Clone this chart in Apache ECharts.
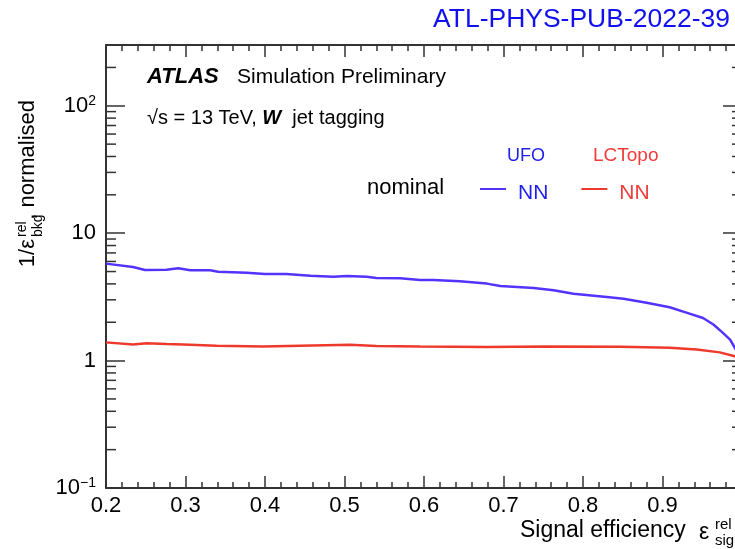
<!DOCTYPE html>
<html><head><meta charset="utf-8">
<script src="https://cdn.jsdelivr.net/npm/echarts@6/dist/echarts.min.js"></script>
<style>html,body{margin:0;padding:0;background:#fff}#c{width:735px;height:549px}</style>
</head><body><div id="c"></div>
<script>
// ---- data ----
const ufoX = [0.200, 0.234, 0.249, 0.276, 0.291, 0.306, 0.331, 0.341, 0.377, 0.400, 0.427, 0.457, 0.486, 0.503, 0.528, 0.540, 0.570, 0.595, 0.612, 0.645, 0.679, 0.696, 0.738, 0.763, 0.788, 0.830, 0.851, 0.880, 0.909, 0.930, 0.951, 0.964, 0.976, 0.985, 0.991, 1.000];
const ufoNN = [5.77, 5.43, 5.14, 5.17, 5.30, 5.11, 5.11, 4.99, 4.90, 4.79, 4.79, 4.64, 4.56, 4.62, 4.56, 4.45, 4.42, 4.30, 4.30, 4.19, 4.02, 3.85, 3.72, 3.56, 3.35, 3.16, 3.06, 2.84, 2.62, 2.38, 2.16, 1.92, 1.65, 1.46, 1.26, 1.00];
const lcX = [0.200, 0.234, 0.251, 0.276, 0.297, 0.339, 0.398, 0.444, 0.507, 0.540, 0.595, 0.679, 0.754, 0.847, 0.909, 0.943, 0.972, 0.991, 1.000];
const lcNN = [1.39, 1.34, 1.37, 1.35, 1.34, 1.31, 1.29, 1.31, 1.33, 1.30, 1.29, 1.28, 1.29, 1.285, 1.26, 1.22, 1.16, 1.08, 1.00];

const xTickValues = [0.2, 0.3, 0.4, 0.5, 0.6, 0.7, 0.8, 0.9, 1.0];
const xTickLabels = ['0.2', '0.3', '0.4', '0.5', '0.6', '0.7', '0.8', '0.9', '1'];
const yTickValues = [0.1, 1, 10, 100];
const yTickLabels = ['{b|10}{s|\u22121}', '{b|1}', '{b|10}', '{b|10}{s|2}'];
const yMinorMultipliers = [2, 3, 4, 5, 6, 7, 8, 9];

// ---- styling ----
const FONT = '"Liberation Sans", Arial, Helvetica, sans-serif';
const AX = '#333333';
const BLUE_LINE = '#5533ff';
const RED_LINE = '#ee3a2c';
const BLUE_TXT = '#1f1ff0';
const RED_TXT = '#f03c3c';
const X_MIN = 0.2, X_MAX = 1.0, Y_MIN = 0.1, Y_MAX = 300;

const yMinor = [];
for (const dec of yTickValues) {
  for (const m of yMinorMultipliers) {
    const v = m * dec;
    if (v > Y_MIN && v < Y_MAX) yMinor.push([X_MIN, v]);
  }
}

function xLabel(v) {
  const i = xTickValues.findIndex(t => Math.abs(t - v) < 1e-6);
  return i >= 0 ? xTickLabels[i] : '';
}
function yLabel(v) {
  const i = yTickValues.findIndex(t => Math.abs(Math.log10(t) - Math.log10(v)) < 1e-6);
  return i >= 0 ? yTickLabels[i] : '';
}

const chart = echarts.init(document.getElementById('c'), null, {renderer: 'canvas'});

const baseX = {
  type: 'value', min: X_MIN, max: X_MAX, interval: 0.1,
  axisLine: {show: true, lineStyle: {color: AX, width: 2}},
  axisTick: {show: true, inside: true, length: 12, lineStyle: {color: AX, width: 1.5}},
  minorTick: {show: true, splitNumber: 5, length: 6, lineStyle: {color: AX, width: 1.5}},
  splitLine: {show: false}, minorSplitLine: {show: false}
};
const baseY = {
  type: 'log', logBase: 10, min: Y_MIN, max: Y_MAX,
  axisLine: {show: true, lineStyle: {color: AX, width: 2}},
  axisTick: {show: true, inside: true, length: 19, lineStyle: {color: AX, width: 1.5}},
  splitLine: {show: false}
};

// legend key: a short bar drawn at the top of its icon box (box is taller than the bar)
const LEGEND_KEY = 'path://M0,0h26v2h-26z M0,11h0.01v0.01h-0.01z';

const option = {
  animation: false,
  backgroundColor: '#ffffff',
  grid: {left: 106, right: -7, top: 45, bottom: 61, containLabel: false, outerBoundsMode: 'none'},
  xAxis: [
    Object.assign({}, baseX, {
      position: 'bottom',
      axisLabel: {show: true, margin: 7, fontFamily: FONT, fontSize: 22, color: '#000',
        formatter: xLabel, showMinLabel: true, showMaxLabel: true}
    }),
    Object.assign({}, baseX, {position: 'top', axisLabel: {show: false}})
  ],
  yAxis: [
    Object.assign({}, baseY, {
      position: 'left',
      axisLabel: {show: true, margin: 10, color: '#000', formatter: yLabel,
        showMinLabel: true, showMaxLabel: false,
        rich: {
          b: {fontFamily: FONT, fontSize: 22, color: '#000'},
          s: {fontFamily: FONT, fontSize: 14, color: '#000', padding: [0, 0, 10, 0]}
        }}
    }),
    Object.assign({}, baseY, {position: 'right', axisLabel: {show: false}})
  ],
  legend: {
    left: 475, top: 178, orient: 'horizontal',
    icon: LEGEND_KEY, itemWidth: 26, itemHeight: 12, itemGap: 33,
    selectedMode: false,
    textStyle: {fontFamily: FONT, fontSize: 21, padding: [0, 0, 0, 7]},
    formatter: () => 'NN',
    data: [
      {name: 'UFO NN', textStyle: {color: BLUE_TXT}},
      {name: 'LCTopo NN', textStyle: {color: RED_TXT}}
    ]
  },
  series: [
    {
      name: 'UFO NN', type: 'line', xAxisIndex: 0, yAxisIndex: 0,
      data: ufoX.map((x, i) => [x, ufoNN[i]]),
      symbol: 'none', showSymbol: false,
      lineStyle: {color: BLUE_LINE, width: 2.5}, itemStyle: {color: BLUE_LINE}
    },
    {
      name: 'LCTopo NN', type: 'line', xAxisIndex: 0, yAxisIndex: 0,
      data: lcX.map((x, i) => [x, lcNN[i]]),
      symbol: 'none', showSymbol: false,
      lineStyle: {color: RED_LINE, width: 2.5}, itemStyle: {color: RED_LINE}
    },
    {
      name: 'yMinorTicks', type: 'custom', xAxisIndex: 0, yAxisIndex: 0,
      silent: true, data: yMinor,
      renderItem: function (params, api) {
        const v = api.value(1);
        const pL = api.coord([X_MIN, v]);
        const pR = api.coord([X_MAX, v]);
        const st = {stroke: AX, lineWidth: 1.5};
        return {type: 'group', children: [
          {type: 'line', shape: {x1: pL[0], y1: pL[1], x2: pL[0] + 10, y2: pL[1]}, style: st},
          {type: 'line', shape: {x1: pR[0] - 10, y1: pR[1], x2: pR[0], y2: pR[1]}, style: st}
        ]};
      }
    }
  ],
  graphic: [
    {type: 'text', x: 433, y: 20, style: {text: 'ATL-PHYS-PUB-2022-39', font: '26.5px ' + FONT, fill: '#1010f0', align: 'left', verticalAlign: 'middle'}},
    {type: 'text', x: 147, y: 77, style: {text: 'ATLAS', font: 'italic bold 22px ' + FONT, fill: '#000', align: 'left', verticalAlign: 'middle'}},
    {type: 'text', x: 237, y: 77, style: {text: 'Simulation Preliminary', font: '21px ' + FONT, fill: '#000', align: 'left', verticalAlign: 'middle'}},
    {type: 'text', x: 147, y: 118, style: {
      text: '{n|\u221As = 13 TeV, }{w|W}{n|  jet tagging}', align: 'left', verticalAlign: 'middle',
      rich: {n: {fontFamily: FONT, fontSize: 20, color: '#000'}, w: {fontFamily: FONT, fontSize: 20, fontStyle: 'italic', fontWeight: 'bold', color: '#000'}}
    }},
    {type: 'text', x: 507, y: 156, style: {text: 'UFO', font: '18px ' + FONT, fill: BLUE_TXT, align: 'left', verticalAlign: 'middle'}},
    {type: 'text', x: 593, y: 156, style: {text: 'LCTopo', font: '19px ' + FONT, fill: RED_TXT, align: 'left', verticalAlign: 'middle'}},
    {type: 'text', x: 367, y: 188, style: {text: 'nominal', font: '22px ' + FONT, fill: '#000', align: 'left', verticalAlign: 'middle'}},
    // x-axis title
    {type: 'text', x: 520, y: 531, style: {text: 'Signal efficiency', font: '23px ' + FONT, fill: '#000', align: 'left', verticalAlign: 'middle'}},
    {type: 'text', x: 699, y: 533, style: {text: '\u03B5', font: '23px ' + FONT, fill: '#000', align: 'left', verticalAlign: 'middle'}},
    {type: 'text', x: 715, y: 525, style: {text: 'rel', font: '15px ' + FONT, fill: '#000', align: 'left', verticalAlign: 'middle'}},
    {type: 'text', x: 715, y: 541, style: {text: 'sig', font: '15px ' + FONT, fill: '#000', align: 'left', verticalAlign: 'middle'}},
    // y-axis title (rotated)
    {type: 'group', x: 36, y: 100, rotation: Math.PI / 2, children: [
      {type: 'text', style: {text: ', normalised', x: 0, y: -8, font: '22px ' + FONT, fill: '#000', align: 'right', verticalAlign: 'middle'}},
      {type: 'text', style: {text: 'rel', x: -137, y: -14, font: '14px ' + FONT, fill: '#000', align: 'left', verticalAlign: 'middle'}},
      {type: 'text', style: {text: 'bkg', x: -137, y: 2, font: '14px ' + FONT, fill: '#000', align: 'left', verticalAlign: 'middle'}},
      {type: 'text', style: {text: '1/\u03B5', x: -139, y: -8, font: '22px ' + FONT, fill: '#000', align: 'right', verticalAlign: 'middle'}}
    ]}
  ]
};
chart.setOption(option);
</script>
</body></html>
